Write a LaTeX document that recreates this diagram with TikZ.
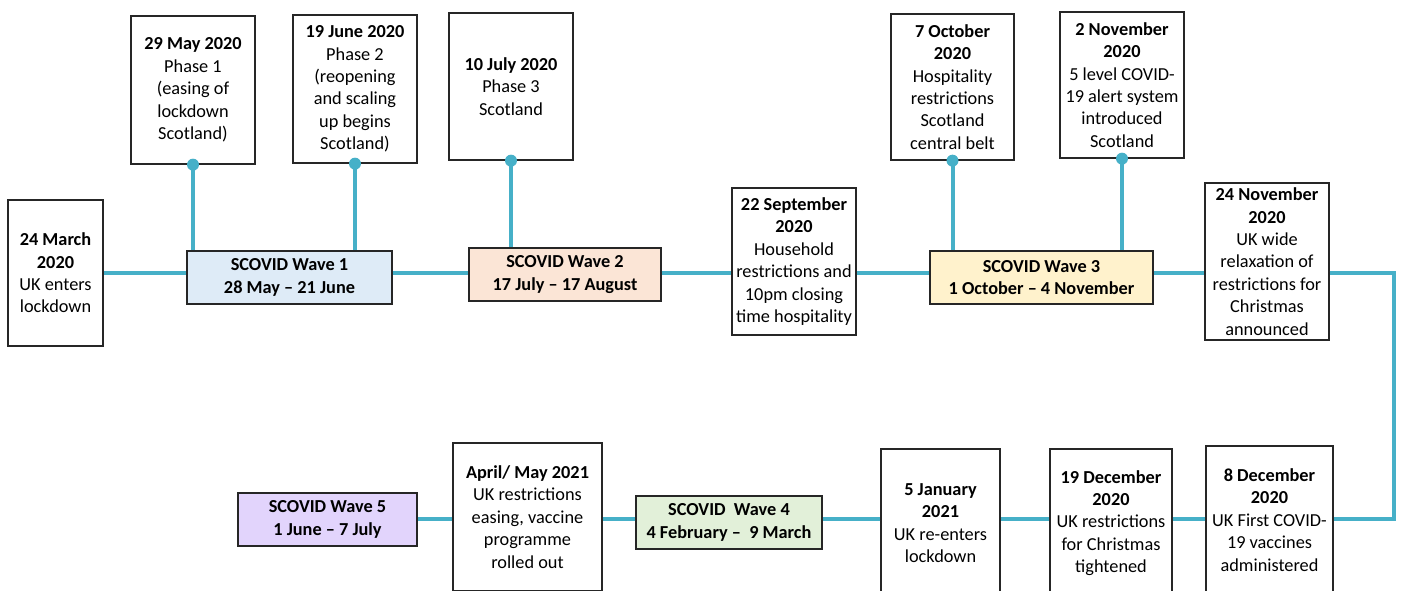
\documentclass[tikz,border=0pt]{standalone}
\usepackage{fontspec}
\setmainfont{Carlito}
\definecolor{tl}{RGB}{70,176,200}
\definecolor{wone}{RGB}{222,235,247}
\definecolor{wtwo}{RGB}{251,229,214}
\definecolor{wthree}{RGB}{255,242,204}
\definecolor{wfour}{RGB}{226,240,217}
\definecolor{wfive}{RGB}{226,212,252}
\begin{document}
\begin{tikzpicture}[x=1pt,y=-1pt,
  box/.style={draw=black!85, line width=1.3pt, fill=white, align=center, inner sep=0pt,
    font=\fontsize{18.3}{22.4}\selectfont},
  wave/.style={box, font=\bfseries\fontsize{18.3}{22.4}\selectfont},
  tline/.style={draw=tl, line width=4pt},
  dot/.style={circle, fill=tl, inner sep=0pt, minimum size=12pt}]
\useasboundingbox (0,0) rectangle (1404,590);
\clip (0,0) rectangle (1404,590);
\fill[white] (0,0) rectangle (1404,590);
% top row
\node[box, minimum width=95, minimum height=146] (mar) at (55.5,273) {\textbf{24 March}\\\textbf{2020}\\UK enters\\lockdown};
\node[box, minimum width=124, minimum height=148] (may) at (193,90) {\textbf{29 May 2020}\\Phase 1\\(easing of\\lockdown\\Scotland)};
\node[box, minimum width=124, minimum height=148] (jun) at (355,89) {\textbf{19 June 2020}\\Phase 2\\(reopening\\and scaling\\up begins\\Scotland)};
\node[wave, fill=wone, minimum width=205, minimum height=53] (w1) at (289.5,277.5) {SCOVID Wave 1\\28 May -- 21 June};
\node[box, minimum width=124, minimum height=147] (jul) at (511,86.5) {\textbf{10 July 2020}\\Phase 3\\Scotland};
\node[wave, fill=wtwo, minimum width=192, minimum height=53] (w2) at (565,274.5) {SCOVID Wave 2\\17 July -- 17 August};
\node[box, minimum width=124, minimum height=147] (sep) at (794,261.5) {\textbf{22 September}\\\textbf{2020}\\Household\\restrictions and\\10pm closing\\time hospitality};
\node[box, minimum width=123, minimum height=146] (oct) at (952.5,87) {\textbf{7 October}\\\textbf{2020}\\Hospitality\\restrictions\\Scotland\\central belt};
\node[box, minimum width=124, minimum height=146] (nov) at (1122,85) {\textbf{2 November}\\\textbf{2020}\\5 level COVID-\\19 alert system\\introduced\\Scotland};
\node[wave, fill=wthree, minimum width=223, minimum height=53] (w3) at (1041.5,277.5) {SCOVID Wave 3\\1 October -- 4 November};
\node[box, minimum width=124, minimum height=157] (novb) at (1267,261.5) {\textbf{24 November}\\\textbf{2020}\\UK wide\\relaxation of\\restrictions for\\Christmas\\announced};
% bottom row
\node[box, minimum width=127, minimum height=148] (dec) at (1269.5,520) {\textbf{8 December}\\\textbf{2020}\\UK First COVID-\\19 vaccines\\administered};
\node[box, minimum width=122, minimum height=148] (decb) at (1111,523) {\textbf{19 December}\\\textbf{2020}\\UK restrictions\\for Christmas\\tightened};
\node[box, minimum width=119, minimum height=148] (jan) at (940.5,523) {\textbf{5 January}\\\textbf{2021}\\UK re-enters\\lockdown};
\node[wave, fill=wfour, minimum width=186, minimum height=53] (w4) at (729,522.5) {SCOVID\ \ Wave 4\\4 February --\ \ 9 March};
\node[box, minimum width=149, minimum height=148] (apr) at (527.5,517) {\textbf{April/ May 2021}\\UK restrictions\\easing, vaccine\\programme\\rolled out};
\node[wave, fill=wfive, minimum width=179, minimum height=53] (w5) at (327.5,519.5) {SCOVID Wave 5\\1 June -- 7 July};
% connectors
\coordinate (r1) at (0,273);
\coordinate (r2) at (0,519);
\coordinate (ca) at (1394,273);
\coordinate (cb) at (1394,519);
\draw[tline] (mar.east |- r1) -- (w1.west |- r1);
\draw[tline] (w1.east |- r1) -- (w2.west |- r1);
\draw[tline] (w2.east |- r1) -- (sep.west |- r1);
\draw[tline] (sep.east |- r1) -- (w3.west |- r1);
\draw[tline] (w3.east |- r1) -- (novb.west |- r1);
\draw[tline] (novb.east |- r1) -- (ca) -- (cb) -- (dec.east |- r2);
\draw[tline] (dec.west |- r2) -- (decb.east |- r2);
\draw[tline] (decb.west |- r2) -- (jan.east |- r2);
\draw[tline] (jan.west |- r2) -- (w4.east |- r2);
\draw[tline] (w4.west |- r2) -- (apr.east |- r2);
\draw[tline] (apr.west |- r2) -- (w5.east |- r2);
% vertical stems
\draw[tline] (may.south) -- (may.south |- w1.north);
\draw[tline] (jun.south) -- (jun.south |- w1.north);
\draw[tline] (jul.south) -- (jul.south |- w2.north);
\draw[tline] (oct.south) -- (oct.south |- w3.north);
\draw[tline] (nov.south) -- (nov.south |- w3.north);
\node[dot] (d1) at (may.south) {};
\node[dot] (d2) at (jun.south) {};
\node[dot] (d3) at (jul.south) {};
\node[dot] (d4) at (oct.south) {};
\node[dot] (d5) at (nov.south) {};
\end{tikzpicture}
\end{document}
